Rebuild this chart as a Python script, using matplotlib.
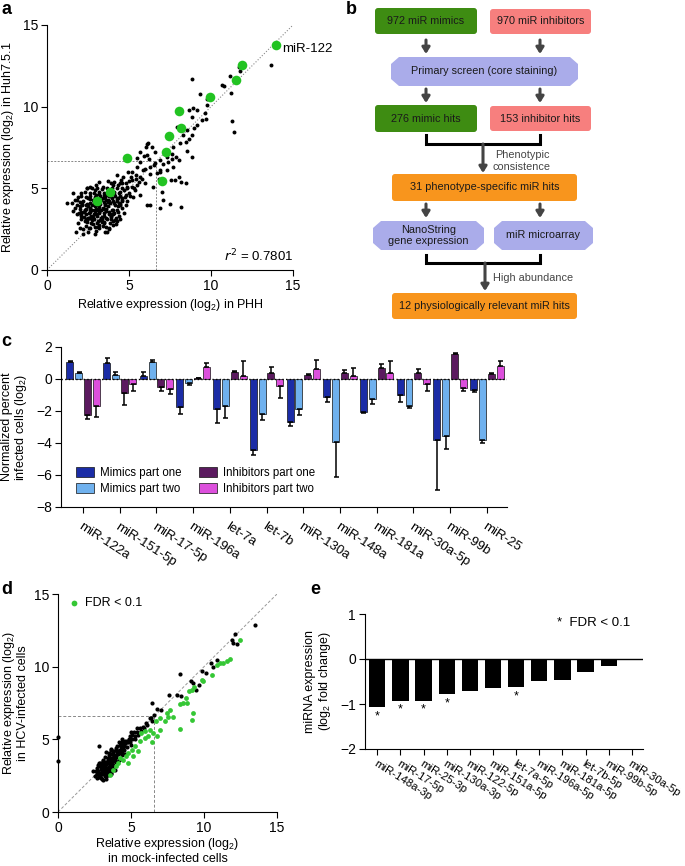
import matplotlib
matplotlib.use('Agg')
import matplotlib.pyplot as plt
import numpy as np
from matplotlib.patches import FancyBboxPatch, Polygon

plt.rcParams['font.family'] = ['Liberation Sans', 'DejaVu Sans']
plt.rcParams['mathtext.default'] = 'regular'
plt.rcParams['font.size'] = 9
plt.rcParams['axes.linewidth'] = 0.8

LAB = 9      # axis label size
TICK = 10    # tick label size

# ---------------- Panel a data ----------------
a_green_x = [13.98, 11.89, 11.54, 9.96, 8.07, 8.17, 7.44, 7.24, 4.86, 7.01, 3.84, 3.03]
a_green_y = [13.80, 12.58, 11.62, 10.58, 9.76, 8.70, 8.21, 7.23, 6.83, 5.46, 4.79, 4.24]
a_black_x = [13.68, 11.71, 11.16, 11.77, 10.65, 10.81, 11.2, 8.82, 9.31, 9.74, 9.78, 8.92, 11.3, 11.42,
             9.17, 8.66, 9.61, 9.43, 9.67, 8.84, 9.13, 7.93, 8.52, 8.31, 8.82, 8.98, 8.68, 8.11, 8.45,
             8.82, 8.52, 7.7, 7.85, 7.62, 8.03, 7.7, 7.4, 6.89, 6.59, 6.08, 6.18, 6.04, 5.67, 5.47,
             6.28, 5.87, 6.71, 6.89, 7.3, 7.54, 7.8, 8.2, 8.45, 8.07, 7.09, 7.5, 8.19, 6.89, 6.28,
             6.12, 6.99, 6.48, 5.67, 5.16, 4.86, 5.37, 4.65, 4.25, 4.96, 4.45, 4.04, 5.67, 5.26,
             1.6, 1.2, 1.71, 1.77, 2.18, 2.93, 3.64, 3.13, 2.62, 2.42,
             2.2, 2.6, 3.0, 3.4, 3.8, 2.8,
             1.9, 2.3, 2.7, 3.1, 3.5, 3.9, 4.2, 2.5, 3.3,
             1.8, 2.1, 2.4, 2.7, 3.0, 3.2, 3.5, 3.8, 4.1, 4.4, 2.9, 3.6,
             1.7, 2.0, 2.3, 2.6, 2.9, 3.1, 3.4, 3.7, 4.0, 4.3, 4.6, 2.45, 3.25, 3.85,
             1.8, 2.2, 2.5, 2.8, 3.1, 3.4, 3.7, 4.0, 4.3, 4.6, 4.9, 3.0, 3.6,
             2.3, 2.6, 2.9, 3.2, 3.5, 3.8, 4.1, 4.4, 4.7, 5.0,
             3.0, 3.4, 3.9, 4.3, 4.8, 5.2, 5.6,
             5.4, 5.8, 6.0, 6.3, 5.5, 6.5, 6.2, 5.9, 6.6, 6.9, 7.1, 6.0, 5.2, 6.8, 5.7, 6.4, 6.1, 7.3, 7.6,
             2.05, 2.35, 2.75, 3.15, 3.55, 3.95, 2.15, 2.65, 3.35, 3.75, 4.15, 2.85, 3.45, 4.45]
a_black_y = [12.55, 12.45, 11.88, 12.18, 11.33, 11.27, 10.82, 11.69, 10.78, 10.45, 10.1, 9.9, 9.12, 8.43,
             9.8, 9.8, 9.59, 9.18, 9.22, 9.39, 8.88, 8.78, 8.57, 8.27, 8.27, 8.67, 8.02, 7.76, 7.86,
             6.94, 7.31, 7.55, 6.94, 6.78, 6.73, 6.33, 6.63, 6.73, 6.53, 7.04, 7.76, 7.55, 7.24, 6.84,
             6.33, 6.12, 5.92, 6.02, 6.12, 5.51, 5.51, 5.41, 5.31, 5.71, 4.29, 4.02, 3.84, 3.78, 3.98,
             3.98, 4.8, 5.1, 5.71, 5.51, 5.1, 4.9, 5.71, 5.82, 6.02, 5.31, 5.2, 4.59, 4.49,
             4.69, 4.12, 4.29, 2.35, 2.18, 2.18, 2.35, 2.65, 5.1, 5.0,
             2.5, 2.6, 2.4, 2.7, 2.5, 2.8,
             2.9, 3.0, 2.9, 3.0, 2.9, 3.1, 2.8, 3.2, 3.2,
             3.4, 3.3, 3.4, 3.3, 3.4, 3.5, 3.3, 3.4, 3.5, 3.3, 3.6, 3.6,
             3.8, 3.9, 3.7, 3.8, 3.9, 3.7, 3.8, 3.9, 3.7, 3.9, 3.8, 4.05, 4.05, 4.1,
             4.3, 4.2, 4.4, 4.3, 4.2, 4.4, 4.3, 4.2, 4.4, 4.3, 4.2, 4.6, 4.6,
             4.8, 4.7, 4.9, 4.8, 4.7, 4.9, 4.8, 4.7, 4.9, 4.7,
             5.2, 5.1, 5.3, 5.2, 5.3, 5.1, 5.4,
             5.8, 5.6, 6.2, 5.9, 6.3, 6.4, 6.8, 7.0, 7.2, 6.1, 6.5, 5.3, 6.0, 5.6, 6.6, 7.5, 7.7, 6.9, 7.1,
             3.55, 3.15, 3.65, 3.85, 4.05, 3.45, 4.05, 3.55, 2.95, 4.55, 3.05, 4.15, 3.75, 4.05]
a_cluster_x = [2.4, 2.9, 3.2, 3.6, 4.0,
               2.1, 2.45, 2.85, 3.25, 3.65, 4.05, 4.45,
               1.95, 2.25, 2.55, 2.85, 3.15, 3.45, 3.75, 4.05, 4.35, 4.7,
               1.85, 2.15, 2.75, 3.05, 3.55, 4.15, 4.45, 4.8, 2.0,
               2.05, 2.35, 2.65, 2.95, 3.25, 3.55, 3.85, 4.15, 4.45, 4.75, 5.05,
               2.45, 2.75, 3.05, 3.35, 3.65, 3.95, 4.25, 4.55, 4.9,
               3.2, 3.7, 4.1, 4.5, 5.0, 5.4,
               2.5, 3.35, 3.9, 2.6, 3.0, 3.7, 4.25, 2.35, 4.55, 1.6, 1.5, 2.0, 2.5, 3.55]
a_cluster_y = [2.7, 2.65, 2.75, 2.65, 2.75,
               3.1, 3.05, 3.1, 3.05, 3.1, 3.0, 3.1,
               3.5, 3.55, 3.5, 3.45, 3.55, 3.5, 3.55, 3.45, 3.55, 3.5,
               4.0, 3.95, 4.0, 3.95, 4.0, 3.95, 4.0, 3.95, 4.15,
               4.5, 4.45, 4.55, 4.45, 4.5, 4.45, 4.55, 4.5, 4.55, 4.45, 4.5,
               5.0, 5.05, 5.0, 4.95, 5.05, 5.0, 5.05, 5.0, 5.05,
               5.4, 5.45, 5.4, 5.5, 5.45, 5.6,
               3.9, 3.1, 3.3, 3.2, 3.75, 4.15, 4.2, 3.75, 4.2, 3.6, 4.1, 2.6, 2.35, 2.3]
a_core_x = [2.25, 2.55, 2.8, 3.05, 3.35, 3.6, 3.9, 4.2,
            2.3, 2.6, 2.95, 3.3, 3.6, 3.95, 4.25,
            2.35, 2.65, 2.95, 3.2, 3.5, 3.8, 4.1, 4.4,
            2.6, 2.9, 3.3, 3.6, 3.95, 4.25, 4.6,
            2.85, 3.15, 3.45, 3.8, 4.1, 4.45, 4.8,
            2.45, 2.75, 3.05, 3.45, 3.85, 4.25,
            2.55, 3.15, 3.75, 2.0, 2.05, 1.9, 2.1, 5.3, 5.5, 5.1, 4.6]
a_core_y = [3.25, 3.2, 3.25, 3.3, 3.25, 3.2, 3.25, 3.2,
            3.65, 3.65, 3.7, 3.65, 3.75, 3.65, 3.7,
            4.0, 4.1, 4.15, 4.2, 4.15, 4.25, 4.1, 4.1,
            4.35, 4.35, 4.3, 4.3, 4.4, 4.35, 4.4,
            4.7, 4.65, 4.6, 4.7, 4.65, 4.75, 4.6,
            2.95, 3.05, 2.85, 2.95, 2.85, 3.0,
            2.55, 2.55, 2.6, 3.75, 3.45, 4.45, 4.7, 5.0, 5.2, 5.7, 5.3]
a_ref = 6.66
a_r2 = "0.7801"

# ---------------- Panel b text ----------------
b_top = ["972 miR mimics", "970 miR inhibitors"]
b_screen = "Primary screen (core staining)"
b_hits = ["276 mimic hits", "153 inhibitor hits"]
b_step1 = "Phenotypic\nconsistence"
b_mid = "31 phenotype-specific miR hits"
b_assays = ["NanoString\ngene expression", "miR microarray"]
b_step2 = "High abundance"
b_final = "12 physiologically relevant miR hits"

# ---------------- Panel c data ----------------
c_cats = ["miR-122a", "miR-151-5p", "miR-17-5p", "miR-196a", "let-7a", "let-7b",
          "miR-130a", "miR-148a", "miR-181a", "miR-30a-5p", "miR-99b", "miR-25"]
c_series = ["Mimics part one", "Mimics part two", "Inhibitors part one", "Inhibitors part two"]
c_mim1 = [1.08, 1.0, 0.21, -1.77, -1.9, -4.44, -2.69, -1.15, -2.08, -0.98, -3.79, -0.69]
c_mim1_err = [0.07, 0.29, 0.21, 0.40, 0.87, 0.31, 0.27, 0.29, 0.07, 0.46, 3.15, 0.14]
c_mim2 = [0.35, 0.27, 1.04, -0.25, -1.71, -2.17, -1.88, -3.92, -1.25, -1.67, -3.56, -3.79]
c_mim2_err = [0.09, 0.17, 0.16, 0.10, 0.71, 0.39, 0.37, 2.18, 0.33, 0.16, 0.84, 0.21]
c_inh1 = [-2.25, -0.9, -0.52, 0.06, 0.42, 0.35, 0.23, 0.37, 0.69, 0.37, 1.54, 0.33]
c_inh1_err = [0.25, 0.70, 0.21, 0.02, 0.10, 0.42, 0.08, 0.21, 0.23, 0.23, 0.09, 0.04]
c_inh2 = [-1.69, -0.33, -0.65, 0.77, 0.19, -0.46, 0.65, 0.2, 0.37, -0.33, -0.58, 0.81]
c_inh2_err = [0.66, 0.44, 0.29, 0.21, 0.94, 0.71, 0.54, 0.47, 0.76, 0.42, 0.19, 0.32]
c_colors = ['#1b2ca6', '#6fb1ee', '#5b1a5f', '#dc4fdc']

# ---------------- Panel d data ----------------
d_black_x = [13.49, 12.15, 11.9, 11.96, 12.24, 10.87, 10.5, 10.59, 9.84, 10.11, 8.36, 9.09, 9.27, 9.43,
             9.66, 8.13, 7.63, 8.4, 6.42, 7.05, 6.76, 6.6, 6.3, 6.42, 6.12, 5.84, 5.62, 5.39, 0.0, 0.0,
             2.81, 2.37,
             2.6, 2.8, 3.0, 3.1, 3.3, 3.2, 3.4, 3.5, 3.6, 3.3, 3.0, 2.9, 3.1, 3.4, 3.6, 3.8, 3.7, 3.9,
             3.5, 3.2, 4.0, 4.1, 3.8, 4.2, 4.3, 4.0, 4.5, 4.4, 4.6, 4.7, 4.8, 4.6, 5.0, 5.1, 4.9, 5.3,
             5.5, 5.2, 5.7, 5.9, 2.7, 2.9, 3.3, 3.6, 4.2, 3.7, 3.9, 3.45, 2.95, 3.15, 3.75, 4.05, 4.35,
             3.25, 4.4, 5.0, 5.4, 6.0, 6.4, 3.5, 3.05, 3.85, 4.15, 2.85, 3.6, 4.55,
             2.75, 3.15, 3.55, 3.35, 3.95, 2.65, 3.05, 3.7, 4.25, 4.75]
d_black_y = [12.87, 12.23, 11.85, 11.62, 11.55, 10.47, 10.24, 10.01, 9.71, 9.55, 9.48, 8.98, 8.86, 8.4,
             8.75, 8.06, 8.06, 7.95, 7.49, 7.03, 7.1, 6.69, 6.46, 6.23, 6.0, 5.88, 5.76, 5.53, 5.17, 3.48,
             4.51, 2.79,
             2.8, 2.4, 2.3, 2.6, 2.5, 2.9, 2.8, 3.1, 2.7, 3.3, 3.1, 3.4, 3.6, 3.6, 3.4, 3.2, 3.7, 3.5,
             3.9, 3.8, 3.8, 4.0, 4.1, 3.6, 4.2, 4.4, 4.3, 4.6, 4.0, 4.5, 4.8, 4.9, 4.6, 5.0, 5.2, 5.2,
             5.3, 5.5, 5.6, 5.8, 3.0, 2.7, 4.1, 4.3, 4.8, 3.0, 2.9, 3.45, 2.95, 3.25, 3.55, 4.15, 3.9,
             2.7, 5.0, 5.5, 5.8, 6.1, 6.5, 3.0, 3.45, 3.85, 3.55, 2.5, 2.9, 4.6,
             3.2, 3.35, 3.3, 3.0, 4.25, 2.6, 2.7, 4.0, 4.3, 4.85]
d_cluster_x = [2.7, 2.9, 3.1, 3.2, 3.35, 3.5, 3.4, 3.25, 3.15, 3.0, 2.85, 2.75, 3.55, 3.65, 3.45, 3.3,
               3.2, 3.1, 3.55, 3.7, 3.8, 3.65, 3.4, 3.9, 4.0, 3.85, 3.75, 4.1, 4.2, 3.95, 4.3, 4.45,
               4.25, 4.6, 4.5, 4.7, 4.85, 4.95, 5.1, 5.25, 2.55, 2.95, 3.05, 3.45, 3.6, 2.65, 3.3,
               3.75, 3.95, 4.35, 3.0, 2.8, 3.5, 3.65, 4.05, 4.4]
d_cluster_y = [2.6, 2.55, 2.75, 2.45, 2.65, 2.85, 3.05, 3.15, 2.95, 2.85, 3.15, 2.85, 3.25, 3.05, 3.35,
               3.45, 3.35, 3.5, 3.55, 3.4, 3.65, 3.75, 3.75, 3.75, 3.95, 3.95, 4.2, 4.2, 4.05, 4.3,
               4.45, 4.4, 4.6, 4.75, 4.55, 4.9, 5.05, 4.85, 5.3, 5.05, 2.45, 2.35, 2.2, 2.55, 2.6,
               2.35, 2.3, 2.95, 3.45, 4.15, 3.25, 3.35, 4.05, 4.35, 4.55, 4.85]
d_green_x = [12.47, 11.78, 11.55, 11.32, 11.1, 10.87, 10.52, 9.95, 9.34, 9.15, 8.99, 8.77, 8.58, 8.36,
             7.67, 7.9, 7.56, 9.27, 9.15, 8.36, 6.99, 6.71, 6.99, 6.48, 6.76, 6.42, 6.19, 5.97, 5.62,
             5.5, 5.27, 5.05, 4.82, 4.66, 4.47, 4.25, 4.13, 3.97, 3.79, 3.56, 4.82, 5.11, 5.71, 5.94,
             6.28, 7.33, 7.44, 8.81, 9.84]
d_green_y = [11.84, 10.51, 10.4, 10.28, 10.24, 10.12, 9.44, 8.98, 8.63, 8.4, 8.34, 7.83, 7.49, 7.44,
             7.03, 6.57, 6.57, 6.84, 6.34, 5.7, 6.46, 6.23, 5.66, 5.43, 5.2, 4.79, 5.2, 5.08, 4.86,
             4.17, 4.51, 4.28, 4.05, 3.82, 3.6, 3.71, 3.37, 3.14, 2.91, 2.56, 3.37, 3.82, 5.43, 5.54,
             5.66, 6.23, 6.8, 7.49, 9.09]
d_ref_x = 6.55
d_ref_y = 6.62

# ---------------- Panel e data ----------------
e_cats = ["miR-148a-3p", "miR-17-5p", "miR-25-3p", "miR-130a-3p", "miR-122-5p", "miR-151a-5p",
          "let-7a-5p", "miR-196a-5p", "miR-181a-5p", "let-7b-5p", "miR-99b-5p", "miR-30a-5p"]
e_vals = [-1.07, -0.93, -0.93, -0.78, -0.70, -0.64, -0.63, -0.49, -0.47, -0.29, -0.16, -0.01]
e_sig = [True, True, True, True, False, False, True, False, False, False, False, False]

W, H = 685, 866
fig = plt.figure(figsize=(W / 100, H / 100), dpi=100)


def frac(l, t, r, b):
    return [l / W, 1 - b / H, (r - l) / W, (b - t) / H]


def style(ax):
    for s in ['top', 'right']:
        ax.spines[s].set_visible(False)
    ax.tick_params(direction='out', length=4, width=0.8, labelsize=TICK, pad=2.5)


# ---------- overlay for flowchart and panel letters ----------
ov = fig.add_axes([0, 0, 1, 1])
ov.set_xlim(0, W)
ov.set_ylim(H, 0)
ov.axis('off')

# ---------- Panel a ----------
axa = fig.add_axes(frac(47, 25, 293, 270))
style(axa)
axa.plot([0, 15], [0, 15], ls=':', color='#888888', lw=0.8)
axa.plot([0, a_ref], [a_ref, a_ref], ls='--', color='#888888', lw=0.7, dashes=(2, 1.5))
axa.plot([a_ref, a_ref], [0, a_ref], ls='--', color='#888888', lw=0.7, dashes=(2, 1.5))
axa.scatter(a_black_x + a_cluster_x + a_core_x, a_black_y + a_cluster_y + a_core_y, s=8,
            color='black', linewidths=0, zorder=3)
axa.scatter(a_green_x, a_green_y, s=48, color='#22c322', linewidths=0, zorder=4)
axa.text(14.35, 13.5, "miR-122", fontsize=9.5, va='center', ha='left')
axa.text(15, 0.85, "$\\it{r}^{2}$ = " + a_r2, fontsize=9.5, ha='right', va='center')
axa.set_xlim(0, 15)
axa.set_ylim(0, 15)
axa.set_xticks([0, 5, 10, 15])
axa.set_yticks([0, 5, 10, 15])
axa.set_xlabel("Relative expression (log$_2$) in PHH", fontsize=LAB, labelpad=3)
axa.set_ylabel("Relative expression (log$_2$) in Huh7.5.1", fontsize=LAB, labelpad=5)

# ---------- Panel b (flowchart) ----------
green = '#3e8c12'
salmon = '#f77f7e'
lav = '#aaacea'
orange = '#f8951d'
txtc = '#1a1a1a'
arrc = '#444444'
BFS = 7.8


def rbox(x0, y0, x1, y1, col, text, fs=BFS):
    p = FancyBboxPatch((x0, y0), x1 - x0, y1 - y0, boxstyle='round,pad=0,rounding_size=3',
                       facecolor=col, edgecolor='none')
    ov.add_patch(p)
    ov.text((x0 + x1) / 2, (y0 + y1) / 2, text, ha='center', va='center', fontsize=fs, color=txtc)


def hexbox(x0, y0, x1, y1, text, fs=BFS):
    cx, cy = 8, 7
    pts = [(x0, y0 + cy), (x0 + cx, y0), (x1 - cx, y0), (x1, y0 + cy),
           (x1, y1 - cy), (x1 - cx, y1), (x0 + cx, y1), (x0, y1 - cy)]
    ov.add_patch(Polygon(pts, closed=True, facecolor=lav, edgecolor='none'))
    ov.text((x0 + x1) / 2, (y0 + y1) / 2, text, ha='center', va='center', fontsize=fs,
            color=txtc, linespacing=1.05)


def arrow(x, y0, y1):
    ov.annotate('', xy=(x, y1), xytext=(x, y0),
                arrowprops=dict(arrowstyle='-|>,head_width=0.25,head_length=0.4', lw=2.2,
                                color=arrc, shrinkA=0, shrinkB=0))


def bracket(xl, xr, y0, y1):
    ov.plot([xl, xl, xr, xr], [y0, y1, y1, y0], color='black', lw=2.2, solid_joinstyle='miter')


xl, xr = 426, 540
rbox(375, 8, 477, 34, green, b_top[0])
rbox(490, 9, 591, 34, salmon, b_top[1])
arrow(xl, 40, 54)
arrow(xr, 40, 54)
hexbox(391, 57, 578, 86, b_screen)
arrow(xl, 89, 103)
arrow(xr, 89, 103)
rbox(375, 105, 477, 132, green, b_hits[0])
rbox(490, 106, 591, 131, salmon, b_hits[1])
bracket(xl, xr, 135, 144)
arrow(483, 144, 173)
ov.text(522, 161, b_step1, ha='center', va='center', fontsize=BFS, color='#444444', linespacing=1.15)
rbox(392, 174, 577, 201, orange, b_mid)
arrow(xl, 204, 218)
arrow(xr, 204, 218)
hexbox(373, 221, 484, 250, b_assays[0])
hexbox(494, 221, 593, 250, b_assays[1])
bracket(xl, xr, 255, 263)
arrow(485, 263, 291)
ov.text(493, 278, b_step2, ha='left', va='center', fontsize=BFS, color='#444444')
rbox(392, 293, 577, 319, orange, b_final)

# ---------- Panel c ----------
axc = fig.add_axes(frac(61, 347, 507, 507))
style(axc)
xc = np.arange(len(c_cats))
offs = [-0.36, -0.12, 0.12, 0.36]
for vals, errs, col, lab, off in zip([c_mim1, c_mim2, c_inh1, c_inh2],
                                     [c_mim1_err, c_mim2_err, c_inh1_err, c_inh2_err],
                                     c_colors, c_series, offs):
    v = np.array(vals)
    e = np.array(errs)
    lower = np.where(v < 0, e, 0)
    upper = np.where(v >= 0, e, 0)
    axc.bar(xc + off, v, 0.19, color=col, edgecolor='#111111', linewidth=0.5, label=lab, zorder=2)
    axc.errorbar(xc + off, v, yerr=[lower, upper], fmt='none', ecolor='black', elinewidth=1.1,
                 capsize=1.8, capthick=1.1, zorder=3)
axc.axhline(0, color='black', lw=1.0, ls=':', zorder=4)
axc.set_xlim(-0.6, 11.55)
axc.set_ylim(-8, 2)
axc.set_yticks([-8, -6, -4, -2, 0, 2])
axc.set_xticks(xc)
axc.set_xticklabels(c_cats, rotation=-33, ha='left', va='top', rotation_mode='anchor', fontsize=9.5)
axc.tick_params(axis='x', pad=6)
axc.set_ylabel("Normalized percent\ninfected cells (log$_2$)", fontsize=LAB, labelpad=5, linespacing=1.0)
axc.legend(ncol=2, frameon=False, loc='lower left', bbox_to_anchor=(0.01, 0.01), fontsize=8.3,
           handlelength=1.6, handleheight=0.95, columnspacing=1.5, labelspacing=0.35, handletextpad=0.5)

# ---------- Panel d ----------
axd = fig.add_axes(frac(58, 594, 277, 812))
style(axd)
axd.plot([0, 15], [0, 15], ls='--', color='#999999', lw=0.7, dashes=(3, 2))
axd.plot([0, d_ref_x], [d_ref_y, d_ref_y], ls='--', color='#888888', lw=0.7, dashes=(3, 2))
axd.plot([d_ref_x, d_ref_x], [0, d_ref_y], ls='--', color='#888888', lw=0.7, dashes=(3, 2))
axd.scatter(d_black_x + d_cluster_x, d_black_y + d_cluster_y, s=9, color='black', linewidths=0,
            zorder=3, clip_on=False)
axd.scatter(d_green_x, d_green_y, s=12, color='#35c735', linewidths=0, zorder=4, label='FDR < 0.1')
axd.set_xlim(0, 15)
axd.set_ylim(0, 15)
axd.set_xticks([0, 5, 10, 15])
axd.set_yticks([0, 5, 10, 15])
axd.set_xlabel("Relative expression (log$_2$)\nin mock-infected cells", fontsize=LAB, labelpad=1,
               linespacing=1.05)
axd.set_ylabel("Relative expression (log$_2$)\nin HCV-infected cells", fontsize=LAB, labelpad=3,
               linespacing=1.0)
axd.legend(loc='upper left', frameon=False, fontsize=9, handletextpad=0.4, borderaxespad=0.0,
           bbox_to_anchor=(0.02, 1.01), handlelength=1.0, markerscale=1.2)

# ---------- Panel e ----------
axe = fig.add_axes(frac(365, 614, 643, 749))
style(axe)
xe = np.arange(len(e_cats))
axe.bar(xe, e_vals, 0.7, color='black', zorder=2)
axe.axhline(0, color='black', lw=1.0)
for i, (v, s) in enumerate(zip(e_vals, e_sig)):
    if s:
        axe.text(i, v - 0.2, '*', ha='center', va='center', fontsize=9)
axe.text(7.75, 0.8, "*  FDR < 0.1", ha='left', va='center', fontsize=9.5)
axe.set_xlim(-0.53, 11.48)
axe.set_ylim(-2, 1)
axe.set_yticks([-2, -1, 0, 1])
axe.set_xticks(xe)
axe.set_xticklabels(e_cats, rotation=-32, ha='left', va='top', rotation_mode='anchor', fontsize=8.2)
axe.tick_params(axis='x', pad=3)
for lbl in axe.get_xticklabels():
    lbl.set_x(lbl.get_position()[0])
axe.set_ylabel("miRNA expression\n(log$_2$ fold change)", fontsize=LAB, labelpad=5, linespacing=1.05)

# ---------- panel letters ----------
for lx, ly, lt in [(1, 10, 'a'), (346, 10, 'b'), (1, 341, 'c'), (1, 590, 'd'), (310, 590, 'e')]:
    ov.text(lx, ly, lt, fontsize=13, fontweight='bold', ha='left', va='center')

fig.savefig('out.png', dpi=100)
